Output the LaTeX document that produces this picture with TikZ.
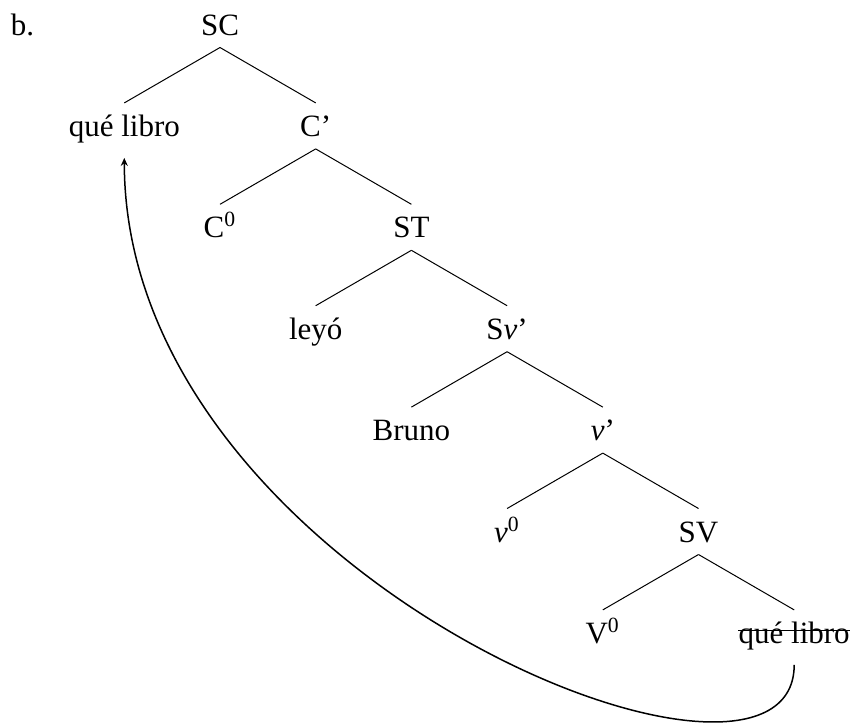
\documentclass[tikz,border=0pt]{standalone}
\usepackage{fontspec}
\setmainfont{Liberation Serif}
\usetikzlibrary{arrows.meta}
\begin{document}
\begin{tikzpicture}[x=0.4pt,y=-0.4pt,
  lab/.style={anchor=base,inner xsep=0pt,inner ysep=0pt,text height=13.2pt,text depth=4.8pt,font=\fontsize{12.4}{15}\selectfont},
  branch/.style={line width=0.4pt},
  strike/.style={line width=0.5pt},
  move/.style={line width=0.6pt,-{Stealth[length=3.2pt,width=2.8pt]}}]
\useasboundingbox (0,0) rectangle (854,722);
\node[lab] (b) at (22.5,35) {b.};
\node[lab] (sc) at (220,35) {SC};
\node[lab] (q1) at (124.3,136.4) {qué libro};
\node[lab] (cb) at (315.7,136.4) {C’};
\node[lab] (c0) at (220,237.8) {C\textsuperscript{0}};
\node[lab] (st) at (411.4,237.8) {ST};
\node[lab] (ley) at (315.7,339.2) {leyó};
\node[lab] (svb) at (507.1,339.2) {S\textit{v}’};
\node[lab] (bru) at (411.4,440.6) {Bruno};
\node[lab] (vb) at (602.8,440.6) {\textit{v}’};
\node[lab] (v0) at (507.1,542) {\textit{v}\textsuperscript{0}};
\node[lab] (sv) at (698.5,542) {SV};
\node[lab] (V0) at (602.8,643.4) {V\textsuperscript{0}};
\node[lab] (q2) at (794.2,643.4) {qué libro};
\draw[branch] (sc.south) -- (q1.north);
\draw[branch] (sc.south) -- (cb.north);
\draw[branch] (cb.south) -- (c0.north);
\draw[branch] (cb.south) -- (st.north);
\draw[branch] (st.south) -- (ley.north);
\draw[branch] (st.south) -- (svb.north);
\draw[branch] (svb.south) -- (bru.north);
\draw[branch] (svb.south) -- (vb.north);
\draw[branch] (vb.south) -- (v0.north);
\draw[branch] (vb.south) -- (sv.north);
\draw[branch] (sv.south) -- (V0.north);
\draw[branch] (sv.south) -- (q2.north);
\draw[strike] ([yshift=5.2pt]q2.base west) -- ([yshift=5.2pt]q2.base east);
\draw[move] ([yshift=-3.6pt]q2.south) .. controls +(0,180) and +(0,420) .. ([yshift=-3.6pt]q1.south);
\end{tikzpicture}
\end{document}
